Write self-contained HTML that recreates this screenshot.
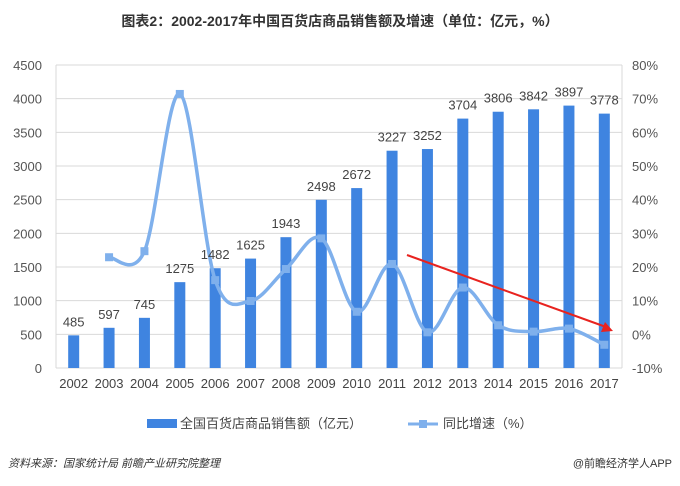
<!DOCTYPE html>
<html><head><meta charset="utf-8"><style>
body{margin:0;background:#fff;width:680px;height:481px;overflow:hidden;font-family:"Liberation Sans","Noto Sans CJK SC",sans-serif;}
svg text{font-family:"Liberation Sans","Noto Sans CJK SC",sans-serif;}
</style></head><body>
<svg id="chart" width="680" height="481" xmlns="http://www.w3.org/2000/svg">
<text x="340" y="26" text-anchor="middle" font-size="14" font-weight="bold" fill="#333">图表2：2002-2017年中国百货店商品销售额及增速（单位：亿元，%）</text>
<g id="grid"></g><g id="bars"></g><g id="line"></g><g id="labels"></g>
<line x1="407" y1="255" x2="606" y2="327" stroke="#e8231f" stroke-width="2"/>
<polygon points="613,331 601,332 605,322" fill="#e8231f"/>
<rect x="147" y="419" width="30" height="9" fill="#3f84e0"/>
<text x="180" y="428" font-size="13" fill="#444">全国百货店商品销售额（亿元）</text>
<line x1="408" y1="424" x2="438" y2="424" stroke="#7fb0ec" stroke-width="3"/>
<rect x="419" y="420" width="8" height="8" fill="#7fb0ec"/>
<text x="443" y="428" font-size="13" fill="#444">同比增速（%）</text>
<text x="8" y="467" font-size="11" font-style="italic" fill="#333">资料来源：国家统计局  前瞻产业研究院整理</text>
<text x="672" y="467" font-size="11" text-anchor="end" fill="#333">@前瞻经济学人APP</text>
</svg>
<script>
const years=["2002","2003","2004","2005","2006","2007","2008","2009","2010","2011","2012","2013","2014","2015","2016","2017"];
const sales=[485,597,745,1275,1482,1625,1943,2498,2672,3227,3252,3704,3806,3842,3897,3778];
const growth=[null,22.9,24.7,71.4,16.1,9.9,19.4,28.5,6.7,20.9,0.6,13.9,2.7,0.8,1.7,-3.1];
const leftTicks=[0,500,1000,1500,2000,2500,3000,3500,4000,4500];
const rightTicks=[-10,0,10,20,30,40,50,60,70,80];
const NS="http://www.w3.org/2000/svg";
const L=56,R=622,T=65,B=368;
const yL=v=>B-(v/4500)*(B-T);
const yR=v=>B-((v+10)/90)*(B-T);
const step=(R-L)/years.length;
const xC=i=>L+step*(i+0.5);
function mk(tag,attrs,parent,txt){const e=document.createElementNS(NS,tag);for(const k in attrs)e.setAttribute(k,attrs[k]);if(txt!==undefined)e.textContent=txt;document.getElementById(parent).appendChild(e);return e;}
leftTicks.forEach((t,i)=>{
 const g=mk('line',{x1:L,x2:R,y1:yL(t),y2:yL(t),stroke:'#d9d9d9','stroke-width':1},'grid');
 
 
 const tl=mk('text',{x:L-14,y:yL(t)+5,'text-anchor':'end','font-size':13,fill:'#555'},'grid',t);
 
 
});
rightTicks.forEach(t=>{
 const tl=mk('text',{x:R+10,y:yR(t)+5,'font-size':13,fill:'#555'},'grid',t+'%');
 
 
});
const ax=mk('line',{x1:L,x2:L,y1:T,y2:B,stroke:'#d9d9d9'},'grid');


const ax2=mk('line',{x1:R,x2:R,y1:T,y2:B,stroke:'#d9d9d9'},'grid');


years.forEach((y,i)=>{
 const b=mk('rect',{x:xC(i)-5.5,y:yL(sales[i]),width:11,height:B-yL(sales[i]),fill:'#3f84e0'},'bars');
 
 
 const v=mk('text',{x:xC(i),y:yL(sales[i])-9,'text-anchor':'middle','font-size':13,fill:'#444'},'labels',sales[i]);
 
 
 const xl=mk('text',{x:xC(i),y:B+20,'text-anchor':'middle','font-size':13,fill:'#444'},'labels',y);
 
 
});
const pts=[];growth.forEach((g,i)=>{if(g!==null)pts.push([xC(i),yR(g)]);});
let d='M'+pts[0][0]+','+pts[0][1];
for(let i=0;i<pts.length-1;i++){
 const p0=pts[Math.max(0,i-1)],p1=pts[i],p2=pts[i+1],p3=pts[Math.min(pts.length-1,i+2)];
 const c1=[p1[0]+(p2[0]-p0[0])/6,p1[1]+(p2[1]-p0[1])/6],c2=[p2[0]-(p3[0]-p1[0])/6,p2[1]-(p3[1]-p1[1])/6];
 d+=` C${c1[0]},${c1[1]} ${c2[0]},${c2[1]} ${p2[0]},${p2[1]}`;
}
const ln=mk('path',{d:d,fill:'none',stroke:'#7fb0ec','stroke-width':3.5},'line');


pts.forEach(p=>{
 const m=mk('rect',{x:p[0]-4,y:p[1]-4,width:8,height:8,fill:'#7fb0ec'},'line');
 
 
});
</script>
</body></html>
